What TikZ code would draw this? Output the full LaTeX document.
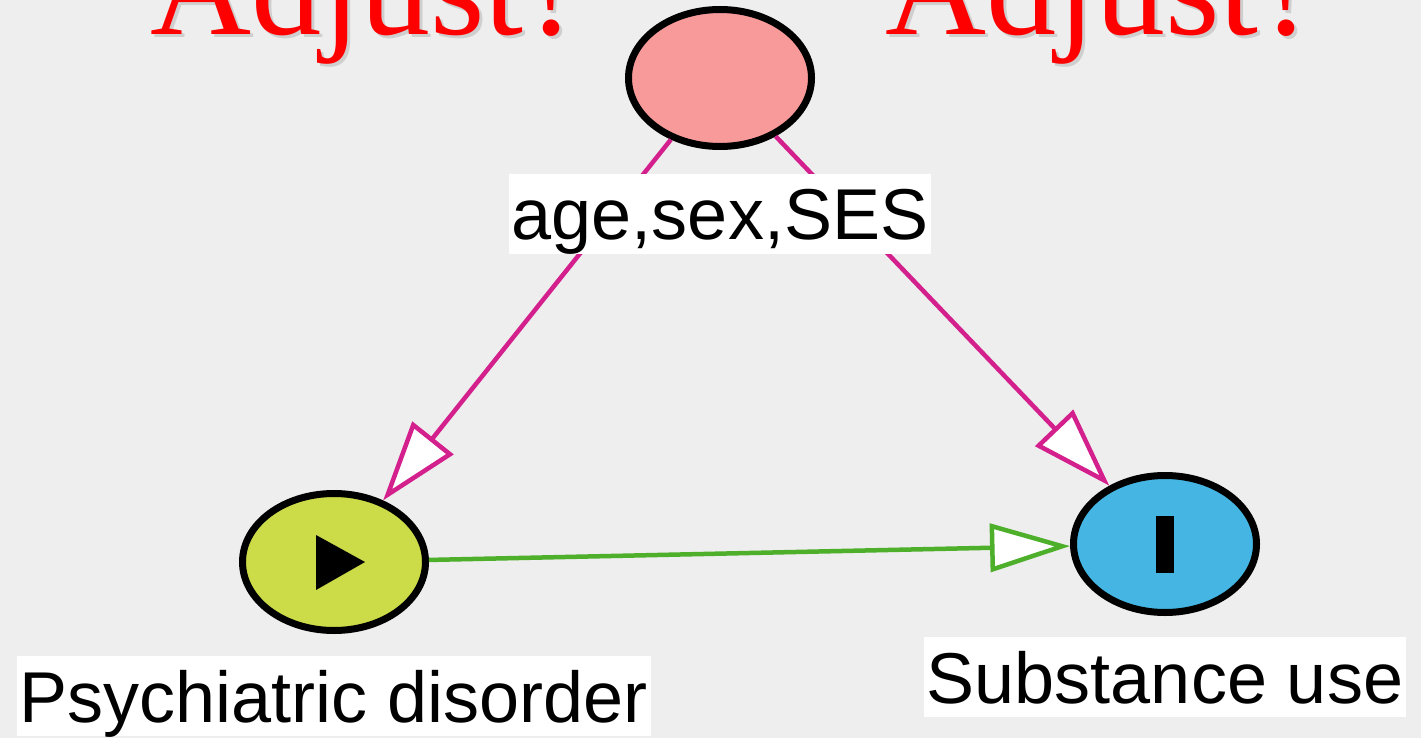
\documentclass[tikz,border=0pt]{standalone}
\usepackage{fontspec}
\setmainfont{Liberation Serif}
\newfontfamily\labelfont{Liberation Sans}
\usetikzlibrary{shapes.geometric,arrows.meta,calc}

\definecolor{bgcol}{HTML}{EEEEEE}
\definecolor{confcol}{HTML}{F99A9A}
\definecolor{expcol}{HTML}{CCDB48}
\definecolor{outcol}{HTML}{45B6E3}
\definecolor{pathcol}{HTML}{D3208D}
\definecolor{causalcol}{HTML}{4DAF2A}
\definecolor{askred}{HTML}{FF0000}

\tikzset{
  var/.style={ellipse, draw=black, line width=7pt, minimum width=183pt,
    minimum height=137pt, inner sep=0pt},
  varlabel/.style={fill=white, anchor=base, inner xsep=3pt, inner ysep=0pt,
    text height=66pt, text depth=14pt,
    font=\labelfont\fontsize{72}{80}\selectfont},
  biasing/.style={draw=pathcol, line width=4.5pt,
    -{Triangle[length=80pt, width=52pt, fill=white, line join=miter]}},
  causal/.style={draw=causalcol, line width=4.5pt,
    -{Triangle[length=80pt, width=48pt, fill=white, line join=miter]}},
  asktext/.style={anchor=base west, inner sep=0pt, text=askred,
    font=\fontsize{140}{150}\selectfont},
  askshadow/.style={anchor=base west, inner sep=0pt, text=black!55,
    opacity=0.25, font=\fontsize{140}{150}\selectfont},
}

\begin{document}
\begin{tikzpicture}[x=1pt, y=-1pt]
  % canvas
  \useasboundingbox (0,0) rectangle (1421,738);
  \clip (0,0) rectangle (1421,738);
  \fill[bgcol] (0,0) rectangle (1421,738);

  % headline questions with a soft drop shadow
  \node[askshadow] (askLs) at (153,38) {Adjust?};
  \node[askshadow] (askRs) at (888,38) {Adjust?};
  \node[asktext] (askL) at (150,35) {Adjust?};
  \node[asktext] (askR) at (885,35) {Adjust?};

  % variables
  \node[var, fill=confcol] (conf) at (720,78) {};
  \node[var, fill=expcol] (psy) at (334,562) {};
  \node[var, fill=outcol] (sub) at (1165,544) {};

  % exposure marker (play triangle) and outcome marker (bar)
  \fill[black] ($(psy)+(-18,-27)$) -- ($(psy)+(-18,28)$) -- ($(psy)+(31,0)$) -- cycle;
  \fill[black] ($(sub)+(-9,-28)$) rectangle ($(sub)+(9,29)$);

  % arrows
  \draw[biasing] (conf) -- (psy);
  \draw[biasing] (conf) -- (sub);
  \draw[causal] (psy) -- (sub);

  % variable names
  \node[varlabel] (confname) at ($(conf)+(0,162)$) {age,sex,SES};
  \node[varlabel] (psyname) at ($(psy)+(0,160)$) {Psychiatric disorder};
  \node[varlabel] (subname) at ($(sub)+(0,159)$) {Substance use};
\end{tikzpicture}
\end{document}
